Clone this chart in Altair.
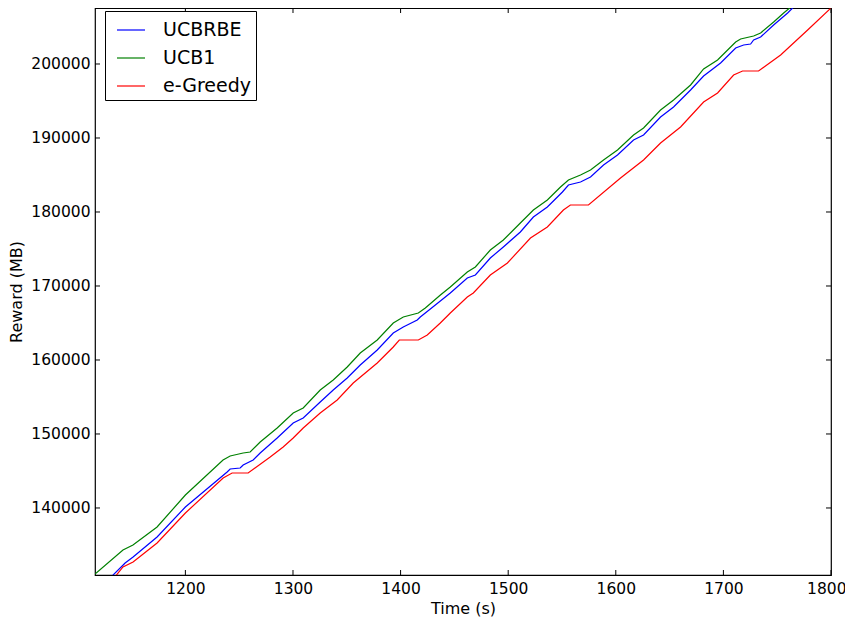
import altair as alt
import pandas as pd

# ---- data ----
ucbrbe_t = [1130, 1144, 1151.4, 1173.7, 1200, 1238.8, 1241.6, 1250.9, 1253.7, 1263, 1269.5, 1285.3,
            1300.2, 1309.5, 1325.3, 1337.4, 1350.4, 1362.5, 1378.3, 1393.2, 1402.5, 1415.5, 1418.3,
            1432.3, 1446.2, 1462, 1469.5, 1483.4, 1495.5, 1511.3, 1523.4, 1536.4, 1550.4, 1556,
            1567.2, 1576.5, 1588.6, 1601.6, 1616.5, 1625.8, 1641.6, 1653.7, 1669.5, 1681.6, 1697.4,
            1711.4, 1718.8, 1725.3, 1728.1, 1734.6, 1746.7, 1759.7, 1770, 1772.8]
ucbrbe_v = [130538, 132565, 133376, 136079, 140133, 144863, 145267, 145403, 145809, 146485, 147430,
            149458, 151485, 152160, 154323, 155944, 157566, 159323, 161350, 163647, 164458, 165404,
            165810, 167431, 169053, 171080, 171485, 173783, 175269, 177296, 179324, 180675, 182702,
            183648, 184054, 184729, 186351, 187703, 189729, 190405, 192838, 194189, 196486, 198378,
            200135, 202162, 202568, 202703, 203243, 203649, 205270, 206892, 208378, 208784]

ucb1_t = [1116, 1142, 1151.3, 1173.7, 1200, 1235, 1241.6, 1253.7, 1260.2, 1269.5, 1285.3, 1300.2,
          1309.5, 1325.3, 1337.4, 1350.4, 1362.5, 1378.3, 1393.2, 1402.5, 1416.5, 1423, 1437, 1446.2,
          1462, 1469.5, 1483.4, 1495.5, 1511.3, 1523.4, 1536.4, 1548.6, 1556, 1567.2, 1576.5, 1588.6,
          1601.6, 1616.5, 1625.8, 1641.6, 1653.7, 1669.5, 1681.6, 1694.6, 1711.4, 1716, 1728.1,
          1734.6, 1746.7, 1756, 1767.2, 1770]
ucb1_v = [131079, 134322, 134998, 137430, 141755, 146485, 147025, 147430, 147565, 148917, 150809,
          152836, 153512, 155944, 157295, 159053, 160945, 162701, 165001, 165810, 166350, 167026,
          168783, 169864, 171891, 172567, 174864, 176215, 178513, 180270, 181621, 183378, 184324,
          185000, 185675, 187027, 188378, 190405, 191351, 193784, 195135, 197162, 199324, 200541,
          202973, 203379, 203784, 204189, 205676, 206892, 208243, 208649]

egreedy_t = [1133.7, 1142, 1151.4, 1173.7, 1200, 1235.1, 1243.4, 1258.3, 1278.8, 1290.9, 1300.2,
             1309.5, 1325.3, 1341.1, 1356, 1378.3, 1393.2, 1398.8, 1416.5, 1424.8, 1436.9, 1446.2,
             1462, 1467.6, 1483.4, 1499.3, 1520.7, 1536.4, 1551.3, 1557.8, 1574.6, 1604.4, 1625.8,
             1641.6, 1660.2, 1681.6, 1694.6, 1709.5, 1717.8, 1732.7, 1753.2, 1778.3, 1800]
egreedy_v = [130538, 132025, 132700, 135268, 139322, 144052, 144728, 144728, 146890, 148241, 149458,
             150809, 152836, 154593, 156890, 159593, 161755, 162701, 162701, 163377, 165001, 166350,
             168512, 169053, 171485, 173107, 176485, 177972, 180270, 180945, 180945, 184594, 187027,
             189324, 191486, 194865, 196081, 198513, 199054, 199054, 201216, 204595, 207568]

series_names = ["UCBRBE", "UCB1", "e-Greedy"]
series_colors = ["#0000ff", "#008000", "#ff0000"]

x_ticks = [1200, 1300, 1400, 1500, 1600, 1700, 1800]
y_ticks = [140000, 150000, 160000, 170000, 180000, 190000, 200000]
x_domain = [1116, 1800]
y_domain = [130943, 207567]

W, H = 736, 567
TICK = 5
FONT = "DejaVu Sans"

rows = []
for name, ts, vs in [("UCBRBE", ucbrbe_t, ucbrbe_v), ("UCB1", ucb1_t, ucb1_v),
                     ("e-Greedy", egreedy_t, egreedy_v)]:
    for i, (t, v) in enumerate(zip(ts, vs)):
        rows.append({"series": name, "t": t, "v": v, "order": i})
df = pd.DataFrame(rows)

xscale = alt.Scale(domain=x_domain, nice=False, zero=False)
yscale = alt.Scale(domain=y_domain, nice=False, zero=False)

lines = alt.Chart(df).mark_line(strokeWidth=1.2, clip=True).encode(
    x=alt.X("t:Q", scale=xscale,
            axis=alt.Axis(values=x_ticks, title="Time (s)", ticks=False, domain=False, grid=False,
                          labelFontSize=15.5, labelFont=FONT, labelColor="black", labelPadding=6,
                          titleFontSize=16, titleFont=FONT, titleFontWeight="normal",
                          titleColor="black", titlePadding=4, format="d",
                          labelFlush=True, labelFlushOffset=15)),
    y=alt.Y("v:Q", scale=yscale,
            axis=alt.Axis(values=y_ticks, title="Reward (MB)", ticks=False, domain=False, grid=False,
                          labelFontSize=15.5, labelFont=FONT, labelColor="black", labelPadding=5,
                          titleFontSize=16, titleFont=FONT, titleFontWeight="normal",
                          titleColor="black", titlePadding=6, format="d", labelFlush=False)),
    color=alt.Color("series:N",
                    scale=alt.Scale(domain=series_names, range=series_colors),
                    sort=series_names,
                    legend=alt.Legend(title=None, orient="none", legendX=10, legendY=3,
                                      symbolType="stroke", symbolSize=784, symbolStrokeWidth=1.2,
                                      symbolOffset=7,
                                      labelFontSize=19, labelFont=FONT, labelColor="black",
                                      labelOffset=17, rowPadding=3, padding=4,
                                      strokeColor="black", fillColor="white", cornerRadius=0)),
    detail="series:N",
    order="order:Q",
)

xt = pd.DataFrame({"t": x_ticks})
yt = pd.DataFrame({"v": y_ticks})

xtick_bottom = alt.Chart(xt).mark_rule(color="black", strokeWidth=1).encode(
    x=alt.X("t:Q", scale=xscale), y=alt.value(H), y2=alt.value(H - TICK))
xtick_top = alt.Chart(xt).mark_rule(color="black", strokeWidth=1).encode(
    x=alt.X("t:Q", scale=xscale), y=alt.value(0), y2=alt.value(TICK))
ytick_left = alt.Chart(yt).mark_rule(color="black", strokeWidth=1).encode(
    y=alt.Y("v:Q", scale=yscale), x=alt.value(0), x2=alt.value(TICK))
ytick_right = alt.Chart(yt).mark_rule(color="black", strokeWidth=1).encode(
    y=alt.Y("v:Q", scale=yscale), x=alt.value(W), x2=alt.value(W - TICK))

chart = alt.layer(lines, xtick_bottom, xtick_top, ytick_left, ytick_right).properties(
    width=W, height=H,
    autosize=alt.AutoSizeParams(type="none"),
    padding={"left": 87, "top": 0, "right": 14, "bottom": 44},
    background="white",
).configure_view(stroke="black", strokeWidth=1.2)

chart.save("out.html", embed_options={"renderer": "svg", "actions": False})
